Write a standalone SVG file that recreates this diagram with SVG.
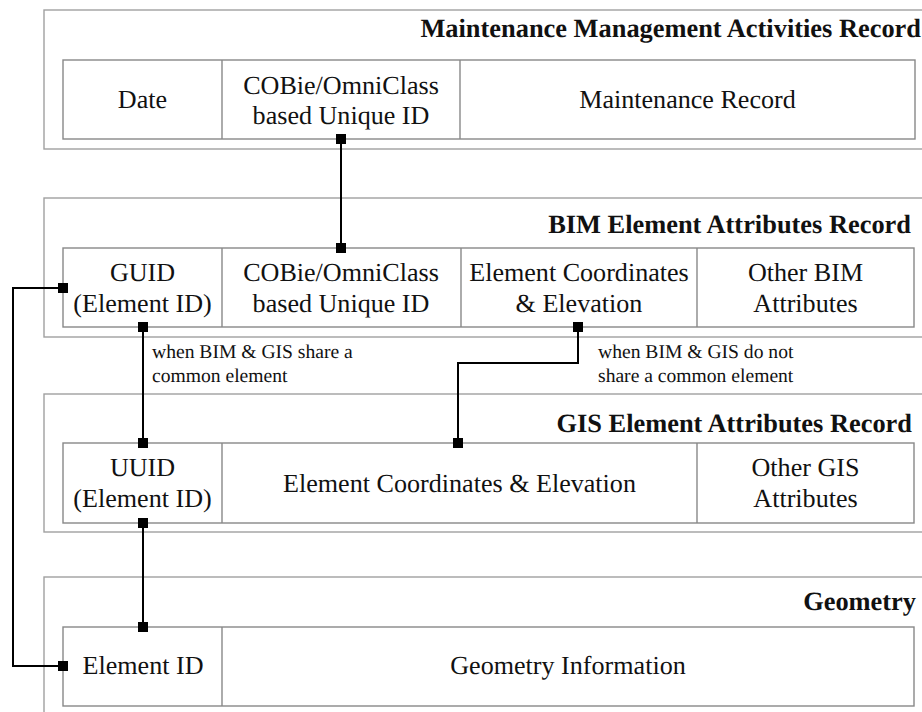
<svg xmlns="http://www.w3.org/2000/svg" width="922" height="712" viewBox="0 0 922 712">
<style>
.outer{fill:none;stroke:#a0a0a0;stroke-width:1.4}
.inner{fill:#fff;stroke:#888;stroke-width:1.4}
.div{stroke:#888;stroke-width:1.4}
text{text-rendering:geometricPrecision}
.body{font-family:'Liberation Serif','Times New Roman',serif;font-size:26.1px;fill:#111;text-anchor:middle}
.title{font-family:'Liberation Serif','Times New Roman',serif;font-size:26.4px;font-weight:bold;fill:#111;text-anchor:end}
.lab{font-family:'Liberation Serif','Times New Roman',serif;font-size:19.6px;fill:#111}
.con{fill:none;stroke:#000;stroke-width:2}
.sq{fill:#000}
</style>
<rect width="922" height="712" fill="#fff"/>

<g id="maintenance">
<rect class="outer" x="44" y="10" width="900" height="139"/>
<text class="title" x="921" y="37">Maintenance Management Activities Record</text>
<rect class="inner" x="63" y="60" width="852" height="79"/>
<line class="div" x1="222" y1="60" x2="222" y2="139"/>
<line class="div" x1="460" y1="60" x2="460" y2="139"/>
<text class="body" x="142.5" y="107.5">Date</text>
<text class="body" x="341" y="93.5">COBie/OmniClass</text>
<text class="body" x="341" y="124">based Unique ID</text>
<text class="body" x="687.5" y="107.5">Maintenance Record</text>
</g>

<g id="bim">
<rect class="outer" x="44" y="198" width="900" height="139"/>
<text class="title" x="911" y="233">BIM Element Attributes Record</text>
<rect class="inner" x="63" y="248" width="851" height="79"/>
<line class="div" x1="222" y1="248" x2="222" y2="327"/>
<line class="div" x1="461" y1="248" x2="461" y2="327"/>
<line class="div" x1="697" y1="248" x2="697" y2="327"/>
<text class="body" x="142.5" y="281">GUID</text>
<text class="body" x="142.5" y="312">(Element ID)</text>
<text class="body" x="341" y="281">COBie/OmniClass</text>
<text class="body" x="341" y="312">based Unique ID</text>
<text class="body" x="579" y="281">Element Coordinates</text>
<text class="body" x="579" y="312">&amp; Elevation</text>
<text class="body" x="805.5" y="281">Other BIM</text>
<text class="body" x="805.5" y="312">Attributes</text>
</g>

<g id="gis">
<rect class="outer" x="44" y="394" width="900" height="138"/>
<text class="title" x="912" y="431.5">GIS Element Attributes Record</text>
<rect class="inner" x="63" y="443" width="851" height="80"/>
<line class="div" x1="222" y1="443" x2="222" y2="523"/>
<line class="div" x1="697" y1="443" x2="697" y2="523"/>
<text class="body" x="142.5" y="475.5">UUID</text>
<text class="body" x="142.5" y="507">(Element ID)</text>
<text class="body" x="459.5" y="491.5">Element Coordinates &amp; Elevation</text>
<text class="body" x="805.5" y="475.5">Other GIS</text>
<text class="body" x="805.5" y="507">Attributes</text>
</g>

<g id="geometry">
<rect class="outer" x="44" y="577" width="900" height="160"/>
<text class="title" x="916" y="610">Geometry</text>
<rect class="inner" x="63" y="627" width="851" height="79"/>
<line class="div" x1="222" y1="627" x2="222" y2="706"/>
<text class="body" x="143" y="674">Element ID</text>
<text class="body" x="568" y="674">Geometry Information</text>
</g>

<g id="connectors">
<polyline class="con" points="341,139 341,248"/>
<polyline class="con" points="63,288 13,288 13,666 63,666"/>
<polyline class="con" points="143,327 143,443"/>
<polyline class="con" points="578,327 578,363 458,363 458,443"/>
<polyline class="con" points="143,523 143,627"/>
<rect class="sq" x="336" y="134" width="10" height="10"/>
<rect class="sq" x="336" y="243" width="10" height="10"/>
<rect class="sq" x="58" y="283" width="10" height="10"/>
<rect class="sq" x="58" y="661" width="10" height="10"/>
<rect class="sq" x="138" y="322" width="10" height="10"/>
<rect class="sq" x="138" y="438" width="10" height="10"/>
<rect class="sq" x="573" y="322" width="10" height="10"/>
<rect class="sq" x="453" y="438" width="10" height="10"/>
<rect class="sq" x="138" y="518" width="10" height="10"/>
<rect class="sq" x="138" y="622" width="10" height="10"/>
</g>

<g id="labels">
<text class="lab" x="152" y="358">when BIM &amp; GIS share a</text>
<text class="lab" x="152" y="382">common element</text>
<text class="lab" x="598" y="358">when BIM &amp; GIS do not</text>
<text class="lab" x="598" y="382">share a common element</text>
</g>
</svg>
